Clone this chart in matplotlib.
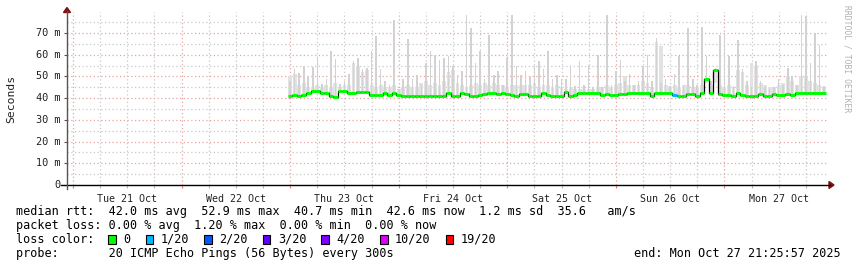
import matplotlib
matplotlib.use('Agg')
import matplotlib.pyplot as plt
import matplotlib.dates as mdates
from matplotlib.patches import Rectangle, Polygon
from matplotlib.lines import Line2D
import numpy as np
import pandas as pd

# ---------------- data ----------------
window_start = pd.Timestamp('2025-10-20 22:40')
window_end = pd.Timestamp('2025-10-27 22:54')
data_start = pd.Timestamp('2025-10-23 00:00')   # hourly samples from here

median_ms = [
    41.0, 41.3, 41.0, 41.3, 42.4, 43.4, 43.2, 42.4, 42.4, 40.8,
    40.7, 43.2, 43.3, 42.4, 42.6, 42.8, 42.8, 42.8, 41.3, 41.3,
    41.6, 42.2, 41.5, 42.3, 41.3, 41.2, 41.2, 41.2, 41.2, 41.2,
    41.2, 41.2, 41.2, 41.2, 41.2, 42.3, 41.2, 41.1, 42.2, 42.0,
    41.0, 41.0, 41.3, 42.0, 42.2, 42.2, 42.0, 42.2, 42.0, 41.6,
    41.0, 42.0, 41.8, 41.0, 41.0, 41.2, 42.3, 41.6, 41.2, 41.0,
    41.0, 43.0, 41.0, 41.5, 42.6, 42.6, 42.6, 42.6, 42.6, 41.3,
    41.8, 41.5, 41.6, 41.9, 41.9, 42.2, 42.6, 42.6, 42.6, 42.6,
    41.0, 42.6, 42.6, 42.6, 42.6, 41.5, 41.0, 41.0, 42.0, 42.0,
    41.0, 42.5, 49.0, 42.6, 53.0, 42.0, 41.5, 41.3, 41.0, 42.5,
    41.5, 41.0, 41.0, 41.0, 42.0, 41.0, 41.0, 42.0, 41.5, 41.3,
    42.0, 41.3, 42.6, 42.6, 42.6, 42.6, 42.6, 42.6, 42.6,
]

smoke_top_ms = [
    48.0, 53.2, 51.8, 54.7, 49.6, 54.2, 58.5, 46.7, 49.0, 61.6,
    58.0, 46.7, 47.7, 51.0, 57.0, 58.5, 53.3, 53.9, 61.6, 68.5,
    53.6, 47.7, 46.2, 76.1, 44.0, 49.0, 67.4, 49.0, 50.8, 46.0,
    56.2, 61.6, 60.0, 57.7, 58.5, 59.2, 54.7, 50.8, 52.3, 78.5,
    72.3, 56.2, 61.6, 49.0, 69.2, 50.8, 52.3, 46.2, 58.5, 78.5,
    54.7, 50.8, 52.3, 50.0, 54.7, 57.0, 53.3, 61.6, 49.0, 50.8,
    49.0, 49.0, 55.5, 45.4, 57.0, 46.0, 55.5, 45.0, 60.0, 45.0,
    78.5, 46.0, 52.3, 57.7, 48.0, 51.3, 46.0, 48.0, 54.7, 60.0,
    47.7, 67.7, 47.0, 49.0, 45.4, 51.3, 59.2, 46.0, 72.3, 49.0,
    46.0, 73.0, 59.2, 48.0, 53.9, 69.2, 69.2, 59.2, 45.4, 67.0,
    53.3, 48.0, 45.0, 57.0, 48.0, 45.0, 44.0, 45.0, 49.0, 46.0,
    53.9, 50.0, 46.0, 78.5, 77.7, 56.2, 69.9, 64.5, 45.4,
]

smoke_body_ms = [
    50, 51, 46, 47, 45, 45, 46, 45, 46, 45,
    47, 45, 46, 46, 56, 55, 52, 53, 46, 45,
    46, 45, 45, 46, 44, 45, 46, 45, 45, 47,
    48, 46, 47, 46, 48, 52, 53, 47, 46, 45,
    46, 47, 46, 47, 46, 47, 46, 46, 45, 46,
    46, 46, 46, 46, 47, 45, 46, 46, 45, 46,
    45, 44, 45, 44, 44, 44, 44, 44, 45, 45,
    46, 45, 46, 47, 50, 46, 46, 46, 48, 47,
    45, 66, 64, 46, 45, 46, 45, 46, 46, 45,
    45, 46, 47, 46, 47, 46, 45, 46, 45, 53,
    52, 46, 56, 55, 47, 46, 45, 45, 46, 47,
    50, 48, 46, 50, 50, 48, 47, 46, 45,
]

loss_pings = [0] * len(median_ms)
loss_pings[85] = 1

loss_thresholds = [0, 1, 2, 3, 4, 10, 19]
loss_labels = ['0', '1/20', '2/20', '3/20', '4/20', '10/20', '19/20']
loss_colors = ['#00ff00', '#00b8ff', '#0059ff', '#5e00ff', '#7e00ff', '#dd00ff', '#ff0000']

day_labels = ['Tue 21 Oct', 'Wed 22 Oct', 'Thu 23 Oct', 'Fri 24 Oct',
              'Sat 25 Oct', 'Sun 26 Oct', 'Mon 27 Oct']
day_dates = pd.date_range('2025-10-21', periods=7, freq='D')

y_ticks = [0, 10, 20, 30, 40, 50, 60, 70]
y_tick_labels = ['0', '10 m', '20 m', '30 m', '40 m', '50 m', '60 m', '70 m']

stats_lines = [
    'median rtt:  42.0 ms avg  52.9 ms max  40.7 ms min  42.6 ms now  1.2 ms sd  35.6   am/s',
    'packet loss: 0.00 % avg  1.20 % max  0.00 % min  0.00 % now',
]
probe_line = 'probe:       20 ICMP Echo Pings (56 Bytes) every 300s'
end_line = 'end: Mon Oct 27 21:25:57 2025'

# ---------------- figure ----------------
W, H = 857, 267
plt.rcParams['font.family'] = ['DejaVu Sans Mono']
fig = plt.figure(figsize=(W / 100, H / 100), dpi=100)
fig.patch.set_facecolor('white')

def fx(x):
    return x / W

def fy(y):
    return 1 - y / H

L, R, T, B = 67, 828, 12.4, 185
ax = fig.add_axes([fx(L), fy(B), fx(R) - fx(L), fy(T) - fy(B)])
ax.set_facecolor('white')
for s in ax.spines.values():
    s.set_visible(False)

times = pd.date_range(data_start, periods=len(median_ms), freq='h')
tnum = mdates.date2num(times.to_pydatetime())
hour = 1 / 24.0
med = np.array(median_ms)
top = np.array(smoke_top_ms)
body = np.array(smoke_body_ms, dtype=float)

# smoke: body (wide, light) and spikes (narrow)
ax.bar(tnum, body - (med - 0.6), bottom=med - 0.6, width=0.85 * hour,
       color='#e2e2e2', linewidth=0, zorder=2)
ax.bar(tnum, top - (med - 0.6), bottom=med - 0.6, width=0.35 * hour,
       color='#d2d2d2', linewidth=0, zorder=2)

# median: black connectors + coloured steps
ax.step(tnum, med, where='mid', color='black', lw=0.9, zorder=3)
seg_colors = []
for lp in loss_pings:
    c = loss_colors[0]
    for th, col in zip(loss_thresholds, loss_colors):
        if lp >= th:
            c = col
    seg_colors.append(c)
ax.hlines(med, tnum - 0.5 * hour, tnum + 0.5 * hour, colors=seg_colors,
          lw=2.2, zorder=4)

ax.set_xlim(mdates.date2num(window_start.to_pydatetime()),
            mdates.date2num(window_end.to_pydatetime()))
ax.set_ylim(0, 79.5)

# grid
ax.xaxis.set_major_locator(mdates.HourLocator(byhour=[0]))
ax.xaxis.set_minor_locator(mdates.HourLocator(byhour=[6, 12, 18]))
ax.set_yticks(y_ticks)
ax.set_yticks([5, 15, 25, 35, 45, 55, 65, 75], minor=True)
ax.grid(True, which='major', color='#e8a3a3', linestyle=(0, (1, 2)), lw=0.9, zorder=1)
ax.grid(True, which='minor', color='#c8c8c8', linestyle=(0, (1, 2)), lw=0.9, zorder=1)
ax.set_axisbelow(True)
ax.tick_params(axis='x', which='major', length=2.5, width=0.8, color='#e08080',
               direction='out', labelbottom=False)
ax.tick_params(axis='x', which='minor', length=2.5, width=0.8, color='#b8b8b8',
               direction='out', labelbottom=False)
ax.tick_params(axis='y', which='major', length=2.5, width=0.8, color='#555555',
               direction='out', labelleft=False)
ax.tick_params(axis='y', which='minor', length=0, labelleft=False)

# y tick labels
for v, lab in zip(y_ticks, y_tick_labels):
    ax.text(-0.009, v, lab, transform=ax.get_yaxis_transform(), ha='right', va='center',
            fontsize=7.4, color='#222222')
# x day labels at noon
for d, lab in zip(day_dates, day_labels):
    xn = mdates.date2num((d + pd.Timedelta(hours=12)).to_pydatetime())
    ax.text(xn, -0.055, lab, transform=ax.get_xaxis_transform(), ha='center', va='top',
            fontsize=7.2, color='#222222')

# axes lines and arrows
fig.add_artist(Line2D([fx(61), fx(830)], [fy(185), fy(185)], color='black', lw=1.0))
fig.add_artist(Line2D([fx(67), fx(67)], [fy(189), fy(11)], color='#555555', lw=1.0))
fig.add_artist(Polygon([[fx(829), fy(181.5)], [fx(834), fy(185)], [fx(829), fy(188.5)]],
                       closed=True, color='#7a1010', transform=fig.transFigure))
fig.add_artist(Polygon([[fx(63.5), fy(12.5)], [fx(67), fy(7.5)], [fx(70.5), fy(12.5)]],
                       closed=True, color='#7a1010', transform=fig.transFigure))

# axis title and watermark
fig.text(fx(11), fy(99), 'Seconds', rotation=90, ha='center', va='center',
         fontsize=8.2, color='#222222')
fig.text(fx(847), fy(5), 'RRDTOOL / TOBI OETIKER', rotation=270, ha='center', va='top',
         fontsize=5.8, color='#b0b0b0')

# legend block
fs = 8.5
tx = 16
fig.text(fx(tx), fy(211.5), stats_lines[0], ha='left', va='center', fontsize=fs)
fig.text(fx(tx), fy(225.5), stats_lines[1], ha='left', va='center', fontsize=fs)
fig.text(fx(tx), fy(239.5), 'loss color:', ha='left', va='center', fontsize=fs)
bx = 108.3
for lab, col in zip(loss_labels, loss_colors):
    fig.add_artist(Rectangle((fx(bx), fy(243.5)), 7.5 / W, 8.5 / H, facecolor=col,
                             edgecolor='black', lw=0.8, transform=fig.transFigure))
    fig.text(fx(bx + 15), fy(239.5), lab, ha='left', va='center', fontsize=fs)
    bx += 15 + 7.1 * len(lab) + 15.2
fig.text(fx(tx), fy(253.5), probe_line, ha='left', va='center', fontsize=fs)
fig.text(fx(841), fy(253.5), end_line, ha='right', va='center', fontsize=fs)

fig.savefig('out.png', dpi=100, facecolor='white')
